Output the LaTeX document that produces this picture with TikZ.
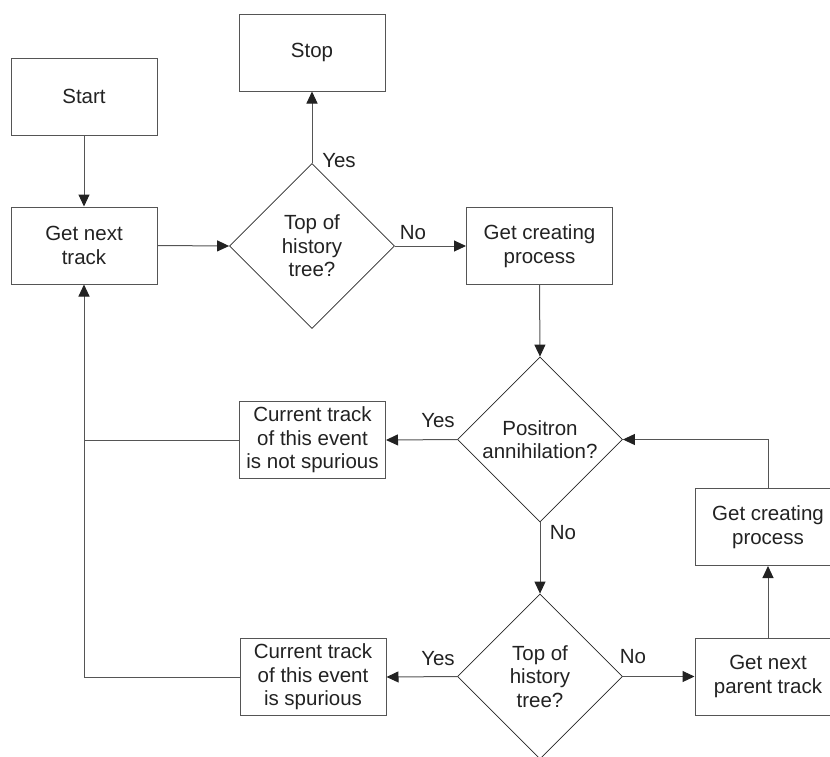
\documentclass[tikz,border=0pt]{standalone}
\usepackage{fontspec}
\setmainfont{Liberation Sans}
\usetikzlibrary{shapes.geometric,arrows.meta}
\definecolor{linec}{HTML}{555555}
\definecolor{textc}{HTML}{222222}
\tikzset{
  box/.style={draw=linec, line width=1pt, rectangle, minimum width=146pt, minimum height=77pt, inner sep=0pt, align=center, text=textc, font=\fontsize{20.5}{23.5}\selectfont},
  dec/.style={draw=black!85, line width=0.8pt, diamond, aspect=1, minimum width=165pt, minimum height=165pt, inner sep=0pt, align=center, text=textc, font=\fontsize{20.5}{23.5}\selectfont},
  arr/.style={draw=linec, line width=1pt, -{Triangle[length=12pt,width=11pt,color=textc,fill=textc]}},
  ln/.style={draw=linec, line width=1pt},
  lbl/.style={text=textc, font=\fontsize{20.5}{23.5}\selectfont, inner sep=0pt}
}
\begin{document}
\begin{tikzpicture}[x=1pt,y=1pt]
\useasboundingbox (0,0) rectangle (830,-756);
\node[box] (start) at (84,-96.5) {Start};
\node[box] (getnext) at (84,-245.5) {Get next\\track};
\node[box] (stop) at (312,-52.5) {Stop};
\node[dec] (d1) at (312,-246) {Top of\\history\\tree?};
\node[box] (gcp1) at (539.5,-246) {Get creating\\process};
\node[dec] (d2) at (540,-439.5) {Positron\\annihilation?};
\node[box] (notsp) at (312.5,-440) {Current track\\of this event\\is not spurious};
\node[dec] (d3) at (540,-676.5) {Top of\\history\\tree?};
\node[box] (sp) at (313,-677) {Current track\\of this event\\is spurious};
\node[box] (gnp) at (768,-676.5) {Get next\\parent track};
\node[box] (gcp2) at (768,-527) {Get creating\\process};
\coordinate (loopr) at (768,-439.5);

\draw[arr] (start.south) -- (getnext.north);
\draw[arr] (getnext.east) -- (d1.west);
\draw[arr] (d1.north) -- (stop.south);
\draw[arr] (d1.east) -- (gcp1.west);
\draw[arr] (gcp1.south) -- (d2.north);
\draw[arr] (d2.west) -- (notsp.east);
\draw[ln] (notsp.west) -- (getnext.south |- notsp.west);
\draw[arr] (sp.west) -| (getnext.south);
\draw[arr] (d2.south) -- (d3.north);
\draw[arr] (d3.west) -- (sp.east);
\draw[arr] (d3.east) -- (gnp.west);
\draw[arr] (gnp.north) -- (gcp2.south);
\draw[arr] (gcp2.north) -- (loopr) -- (d2.east);

\node[lbl] (l1) at (339,-161) {Yes};
\node[lbl] (l2) at (413,-233) {No};
\node[lbl] (l3) at (438,-421) {Yes};
\node[lbl] (l4) at (563,-533) {No};
\node[lbl] (l5) at (438,-659) {Yes};
\node[lbl] (l6) at (633,-657) {No};
\end{tikzpicture}
\end{document}
